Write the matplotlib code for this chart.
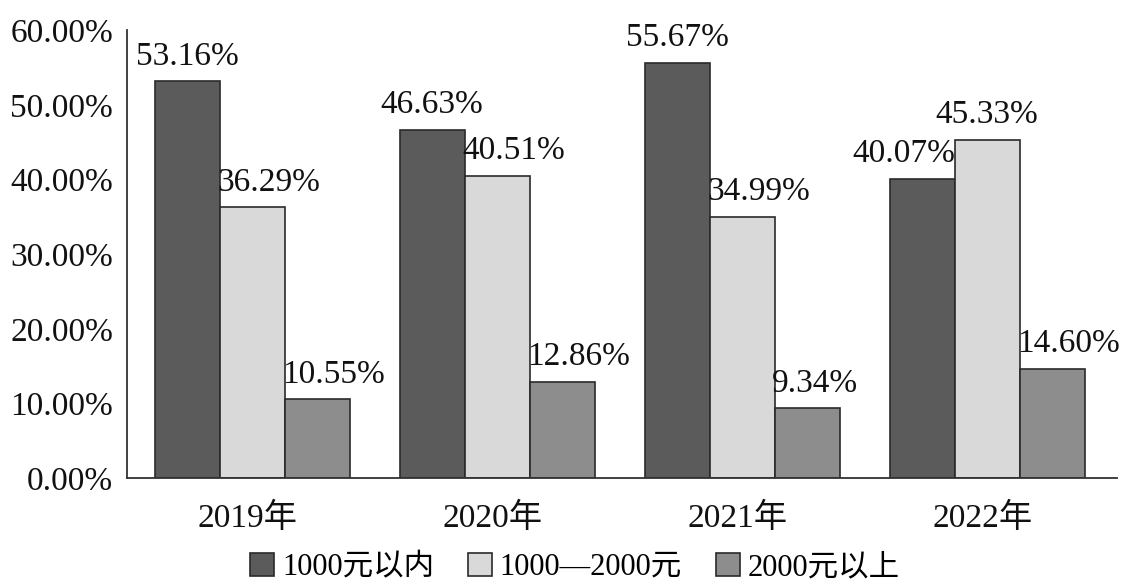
import numpy as np
import matplotlib.pyplot as plt
from matplotlib.ticker import FuncFormatter

plt.rcParams['font.family'] = ['Liberation Serif', 'Noto Sans CJK SC']

years = ['2019年', '2020年', '2021年', '2022年']
series_names = ['1000元以内', '1000—2000元', '2000元以上']
under_1000 = [53.16, 46.63, 55.67, 40.07]
mid_range = [36.29, 40.51, 34.99, 45.33]
over_2000 = [10.55, 12.86, 9.34, 14.60]

colors = ['#5b5b5b', '#d9d9d9', '#8d8d8d']
values = [under_1000, mid_range, over_2000]

# where each value label sits relative to its bar
label_align = [['center', 'center', 'center', 'right'],
               ['left', 'left', 'left', 'center'],
               ['left', 'left', 'left', 'left']]

fig = plt.figure(figsize=(11.25, 5.83), dpi=100)
ax = fig.add_axes([0.113, 0.18, 0.88, 0.768])

x = np.arange(len(years))
width = 0.265
for i, (vals, name, c) in enumerate(zip(values, series_names, colors)):
    pos = x + (i - 1) * width
    bars = ax.bar(pos, vals, width, color=c, edgecolor='#2a2a2a',
                  linewidth=1.2, label=name)
    for j, (b, v) in enumerate(zip(bars, vals)):
        ha = label_align[i][j]
        if ha == 'left':
            tx = b.get_x() - 0.01
        elif ha == 'right':
            tx = b.get_x() + b.get_width()
        else:
            tx = b.get_x() + b.get_width() / 2
        ax.text(tx, v + 1.3, f'{v:.2f}%', ha=ha, va='bottom',
                fontsize=24, color='#111111')

ax.set_xlim(-0.51, 3.53)
ax.set_ylim(0, 60)
ax.set_yticks(np.arange(0, 61, 10))
ax.yaxis.set_major_formatter(FuncFormatter(lambda v, p: f'{v:.2f}%'))
ax.set_xticks(x - 0.02)
ax.set_xticklabels(years)
ax.tick_params(axis='both', length=0, labelsize=24, colors='#111111')
ax.tick_params(axis='x', pad=18)
ax.tick_params(axis='y', pad=10)

for s in ['top', 'right']:
    ax.spines[s].set_visible(False)
for s in ['left', 'bottom']:
    ax.spines[s].set_color('#333333')
    ax.spines[s].set_linewidth(1.3)

fig.legend(loc='center', bbox_to_anchor=(0.511, 0.027), ncol=3,
           frameon=False, fontsize=22, handlelength=0.8, handleheight=0.8,
           handletextpad=0.25, columnspacing=1.1)

plt.savefig('out.png', dpi=100)
